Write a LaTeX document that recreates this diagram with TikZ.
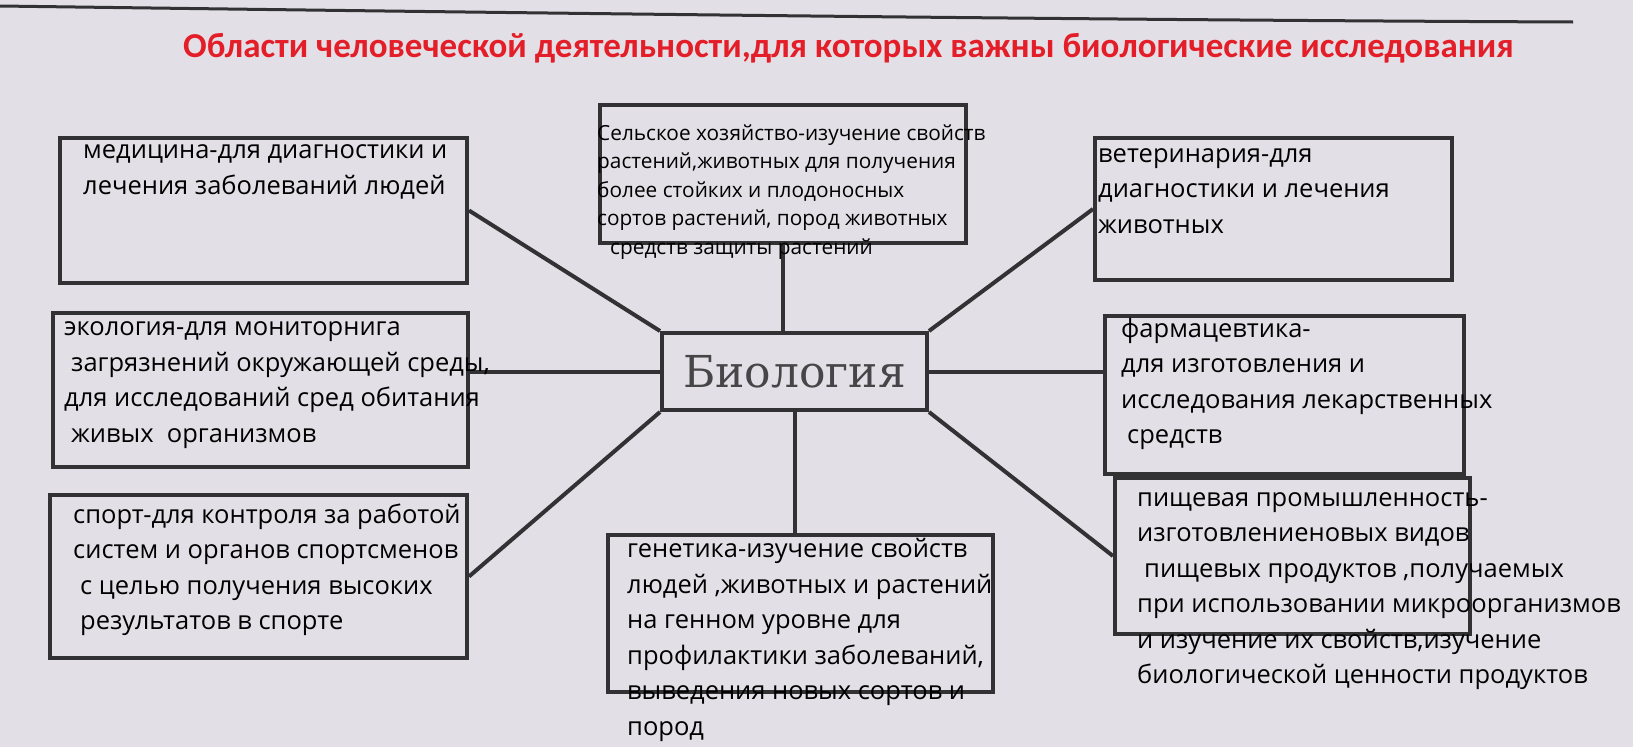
\documentclass[tikz,border=0pt]{standalone}
\usepackage{fontspec}
\setmainfont{Open Sans}
\newfontfamily\titlefont{Carlito}
\newfontfamily\bioserif{DejaVu Serif}
\usetikzlibrary{calc}
\definecolor{paper}{RGB}{226,224,230}
\definecolor{ink}{RGB}{50,50,53}
\definecolor{bioink}{RGB}{70,70,72}
\definecolor{titlered}{RGB}{228,30,40}
\begin{document}
\begin{tikzpicture}[x=1pt,y=-1pt,
  box/.style={draw=ink, line width=4pt, inner sep=0pt},
  link/.style={draw=ink, line width=4pt},
  txt/.style={anchor=west, inner sep=0pt, align=left, text=black, font=\fontsize{25.5}{35.5}\selectfont},
  smalltxt/.style={txt, font=\fontsize{20.8}{28.5}\selectfont}]
\fill[paper] (0,0) rectangle (1633,747);
\useasboundingbox (0,0) rectangle (1633,747);
\draw[ink, line width=3pt] (0,6) .. controls (600,14) and (1100,20) .. (1573,22);

\node[font=\titlefont\bfseries\fontsize{35}{35}\selectfont, text=titlered] (title) at (848.5,48)
  {Области человеческой деятельности,для которых важны биологические исследования};

% boxes
\node[box, minimum width=407pt, minimum height=145pt] (med) at (263.5,210.5) {};
\node[box, minimum width=415pt, minimum height=154pt] (eco) at (260.5,390) {};
\node[box, minimum width=417pt, minimum height=163pt] (sport) at (258.5,576.5) {};
\node[box, minimum width=366pt, minimum height=138pt] (agr) at (783,174) {};
\node[box, minimum width=265pt, minimum height=77pt, text=bioink,
      font=\bioserif\fontsize{44}{44}\selectfont] (bio) at (794.5,371.5) {Биология};
\node[box, minimum width=385pt, minimum height=157pt] (gen) at (800.5,613.5) {};
\node[box, minimum width=357pt, minimum height=142pt] (vet) at (1273.5,209) {};
\node[box, minimum width=359pt, minimum height=158pt] (pharm) at (1284.5,395) {};
\node[box, minimum width=355pt, minimum height=156pt] (food) at (1292.5,556) {};

% connectors
\draw[link] (bio.north west) -- (med.east);
\draw[link] (eco.east |- bio.west) -- (bio.west);
\draw[link] (bio.south west) -- (sport.east);
\draw[link] (agr.south) -- (agr.south |- bio.north);
\draw[link] (bio.south) -- (bio.south |- gen.north);
\draw[link] (bio.north east) -- (vet.west);
\draw[link] (bio.east) -- (pharm.west |- bio.east);
\draw[link] (bio.south east) -- (food.west);

% texts
\node[txt] (medt) at (83,172) {медицина-для диагностики и\\лечения заболеваний людей};
\node[txt] (ecot) at (64,385) {экология-для мониторнига\\\hspace*{7pt}загрязнений окружающей среды,\\для исследований сред обитания\\\hspace*{7pt}живых\ \ организмов};
\node[txt] (sportt) at (73,570) {спорт-для контроля за работой\\систем и органов спортсменов\\\hspace*{7pt}с целью получения высоких\\\hspace*{7pt}результатов в спорте};
\node[smalltxt] (agrt) at (597,192) {Сельское хозяйство-изучение свойств\\растений,животных для получения\\более стойких и плодоносных\\сортов растений, пород животных\\\hspace*{13pt}средств защиты растений};
\node[txt] (gent) at (627,640) {генетика-изучение свойств\\людей ,животных и растений\\на генном уровне для\\профилактики заболеваний,\\выведения новых сортов и\\пород};
\node[txt] (vett) at (1098,191) {ветеринария-для\\диагностики и лечения\\животных};
\node[txt] (pharmt) at (1121,384) {фармацевтика-\\для изготовления и\\исследования лекарственных\\\hspace*{6pt}средств};
\node[txt] (foodt) at (1137,591) {пищевая промышленность-\\изготовлениеновых видов\\\hspace*{7pt}пищевых продуктов ,получаемых\\при использовании микроорганизмов\\и изучение их свойств,изучение\\биологической ценности продуктов};
\end{tikzpicture}
\end{document}
